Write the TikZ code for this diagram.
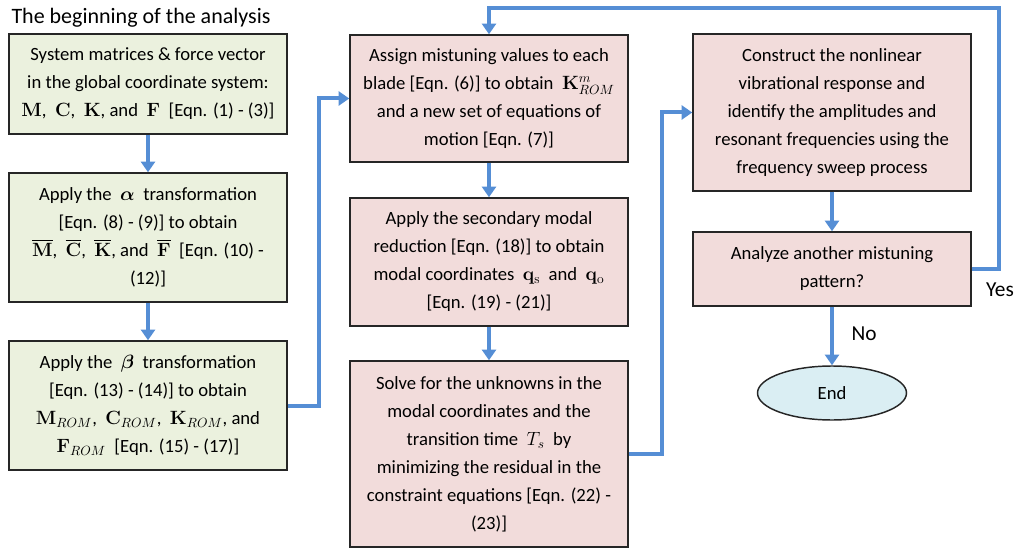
\documentclass[tikz,border=0pt]{standalone}
\usepackage{amsmath,bm}
\usepackage[no-math]{fontspec}
\setmainfont{Carlito}
\usetikzlibrary{arrows.meta,shapes.geometric}
\definecolor{gfill}{HTML}{EBF1DE}
\definecolor{pfill}{HTML}{F2DCDB}
\definecolor{efill}{HTML}{DAEEF3}
\definecolor{arrc}{HTML}{558ED5}
\tikzset{
  box/.style={draw=black!85, line width=1.1pt, minimum width=208.5pt, inner sep=2pt, align=center, font=\fontsize{14}{21}\selectfont},
  gbox/.style={box, fill=gfill},
  pbox/.style={box, fill=pfill},
  conn/.style={draw=arrc, line width=3pt, -{Triangle[width=10.5pt,length=8pt]}},
  lbl/.style={font=\fontsize{16}{18}\selectfont, inner sep=0pt}
}
\begin{document}
\begin{tikzpicture}[x=0.75pt,y=-0.75pt]
\useasboundingbox (0,0) rectangle (1017,549);
\node[lbl, font=\fontsize{16.5}{18}\selectfont] (title) at (141,18) {The beginning of the analysis};
\node[gbox, minimum height=75pt] (g1) at (148,84) {System matrices \& force vector\\ in the global coordinate system:\\ $\mathbf{M}$,\ \ $\mathbf{C}$,\ \ $\mathbf{K}$, and\ \ $\mathbf{F}$\ \ {[}Eqn. (1) - (3)]};
\node[gbox, minimum height=96.75pt] (g2) at (148,237.5) {Apply the\ \ $\bm{\alpha}$\ \ transformation\\ {[}Eqn. (8) - (9)] to obtain\\ $\overline{\mathbf{M}}$,\ \ $\overline{\mathbf{C}}$,\ \ $\overline{\mathbf{K}}$, and\ \ $\overline{\mathbf{F}}$\ \ {[}Eqn. (10) -\\ (12)]};
\node[gbox, minimum height=96.75pt] (g3) at (148,405.5) {Apply the\ \ $\bm{\beta}$\ \ transformation\\ {[}Eqn. (13) - (14)] to obtain\\ $\mathbf{M}_{ROM}$,\ \ $\mathbf{C}_{ROM}$,\ \ $\mathbf{K}_{ROM}$, and\\ $\mathbf{F}_{ROM}$\ \ {[}Eqn. (15) - (17)]};
\node[pbox, minimum height=95.25pt] (p1) at (489,98.5) {Assign mistuning values to each\\ blade {[}Eqn. (6)] to obtain\ \ $\mathbf{K}^{m}_{ROM}$\\ and a new set of equations of\\ motion {[}Eqn. (7)]};
\node[pbox, minimum height=96pt] (p2) at (489,262) {Apply the secondary modal\\ reduction {[}Eqn. (18)] to obtain\\ modal coordinates\ \ $\mathbf{q}_{\mathrm{s}}$\ \ and\ \ $\mathbf{q}_{\mathrm{o}}$\\ {[}Eqn. (19) - (21)]};
\node[pbox, minimum height=139.5pt] (p3) at (489,454) {Solve for the unknowns in the\\ modal coordinates and the\\ transition time\ \ $T_s$\ \ by\\ minimizing the residual in the\\ constraint equations {[}Eqn. (22) -\\ (23)]};
\node[pbox, minimum height=117.75pt] (r1) at (832,112.5) {Construct the nonlinear\\ vibrational response and\\ identify the amplitudes and\\ resonant frequencies using the\\ frequency sweep process};
\node[pbox, minimum height=55.5pt] (r2) at (832,269) {Analyze another mistuning\\ pattern?};
\node[ellipse, draw=black!85, line width=1.1pt, fill=efill, minimum width=111.75pt, minimum height=40.5pt, inner sep=0pt, font=\fontsize{14}{16}\selectfont] (e) at (832,393) {End};
\coordinate (yc) at (999,8);
\draw[conn] (g1.south) -- (g2.north);
\draw[conn] (g2.south) -- (g3.north);
\draw[conn] (g3.east) -- ++(31,0) |- (p1.west);
\draw[conn] (p1.south) -- (p2.north);
\draw[conn] (p2.south) -- (p3.north);
\draw[conn] (p3.east) -- ++(33,0) |- (r1.west);
\draw[conn] (r1.south) -- (r2.north);
\draw[conn] (r2.south) -- (e.north);
\draw[conn] (r2.east) -| (yc) -| (p1.north);
\node[lbl] (yes) at (1000,290) {Yes};
\node[lbl] (no) at (864,334) {No};
\end{tikzpicture}
\end{document}
